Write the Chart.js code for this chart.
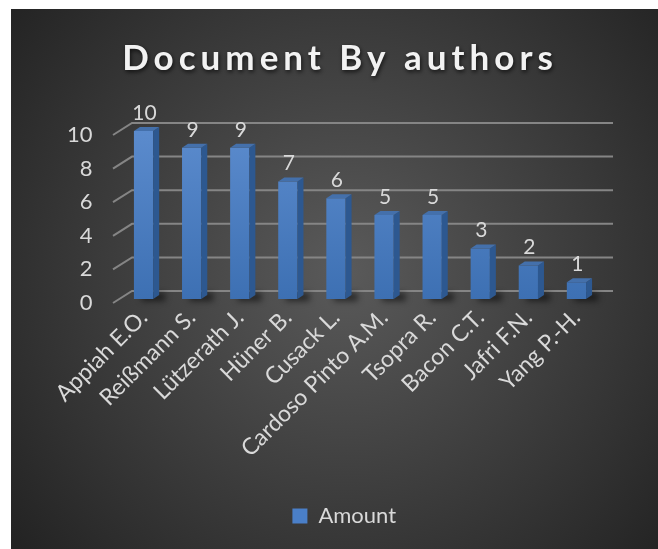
<!DOCTYPE html>
<html lang="en">
<head>
<meta charset="UTF-8">
<title>Document By authors</title>
<script src="https://cdn.jsdelivr.net/npm/chart.js@4.4.0/dist/chart.umd.min.js"></script>
<style>
  html, body { margin: 0; padding: 0; background: #fff; }
  #wrap { width: 658px; height: 549px; position: relative; }
</style>
</head>
<body>
<div id="wrap"><canvas id="chart"></canvas></div>
<script>
  const chartTitle = 'Document By authors';
  const seriesName = 'Amount';
  const authors = ['Appiah E.O.', 'Reißmann S.', 'Lützerath J.', 'Hüner B.', 'Cusack L.',
                   'Cardoso Pinto A.M.', 'Tsopra R.', 'Bacon C.T.', 'Jafri F.N.', 'Yang P.-H.'];
  const amounts = [10, 9, 9, 7, 6, 5, 5, 3, 2, 1];
  const yTicks = [0, 2, 4, 6, 8, 10];

  const TEXT = '#d9d9d9';
  const GRID = '#858585';

  // offsets used to fake the 3D look
  const barDepth = { dx: 6, dy: -4 };
  const wallFront = { dx: -6.5, dy: 4 };
  const wallBack = { dx: 12.5, dy: -8 };

  // dark panel with the soft radial light
  const backdrop = {
    id: 'backdrop',
    afterLayout(chart) {
      // legend sits a little right of the canvas centre
      chart.legend.left += 44;
      chart.legend.right += 44;
    },
    beforeDraw(chart) {
      const { ctx, width, height } = chart;
      ctx.save();
      ctx.fillStyle = '#fff';
      ctx.fillRect(0, 0, width, height);
      const g = ctx.createRadialGradient(345, 270, 0, 345, 270, 430);
      g.addColorStop(0, '#5a5a5a');
      g.addColorStop(1, '#232323');
      ctx.fillStyle = g;
      ctx.fillRect(11, 9, width - 11, height - 9);

      // title with letter spacing and drop shadow
      ctx.font = 'bold 35px Lato, "Open Sans", sans-serif';
      ctx.letterSpacing = '5px';
      ctx.textAlign = 'center';
      ctx.textBaseline = 'alphabetic';
      ctx.shadowColor = 'rgba(0,0,0,0.7)';
      ctx.shadowBlur = 4;
      ctx.shadowOffsetX = 1;
      ctx.shadowOffsetY = 2;
      ctx.fillStyle = '#f2f2f2';
      ctx.fillText(chartTitle, 340, 70);
      ctx.restore();
    },
    beforeDatasetsDraw(chart) {
      const { ctx, chartArea } = chart;
      const y = chart.scales.y;
      ctx.save();
      ctx.strokeStyle = GRID;
      ctx.lineWidth = 2;
      yTicks.forEach(v => {
        const py = y.getPixelForValue(v);
        ctx.beginPath();
        ctx.moveTo(chartArea.left + wallFront.dx, py + wallFront.dy);
        ctx.lineTo(chartArea.left + wallBack.dx, py + wallBack.dy);
        ctx.lineTo(chartArea.right + wallBack.dx, py + wallBack.dy);
        ctx.stroke();
      });
      // floor shadow behind each bar
      const meta = chart.getDatasetMeta(0);
      ctx.filter = 'blur(3px)';
      ctx.fillStyle = 'rgba(0,0,0,0.55)';
      meta.data.forEach(bar => {
        const right = bar.x + bar.width / 2;
        ctx.fillRect(bar.x - 2, bar.base - 6, right - bar.x + 14, 8);
      });
      ctx.restore();
    },
    afterDatasetsDraw(chart) {
      const { ctx } = chart;
      const meta = chart.getDatasetMeta(0);
      ctx.save();
      meta.data.forEach((bar, i) => {
        const l = bar.x - bar.width / 2;
        const r = bar.x + bar.width / 2;
        const t = bar.y, b = bar.base;
        const { dx, dy } = barDepth;
        // side face
        ctx.fillStyle = '#2d5890';
        ctx.beginPath();
        ctx.moveTo(r, t);
        ctx.lineTo(r + dx, t + dy);
        ctx.lineTo(r + dx, b + dy);
        ctx.lineTo(r, b);
        ctx.closePath();
        ctx.fill();
        // top face
        ctx.fillStyle = '#4470ab';
        ctx.beginPath();
        ctx.moveTo(l, t);
        ctx.lineTo(l + dx, t + dy);
        ctx.lineTo(r + dx, t + dy);
        ctx.lineTo(r, t);
        ctx.closePath();
        ctx.fill();
        // value label
        ctx.fillStyle = TEXT;
        ctx.font = '21px Lato, "Open Sans", sans-serif';
        ctx.textAlign = 'center';
        ctx.fillText(String(amounts[i]), bar.x + 1, t - 18);
      });
      ctx.restore();
    }
  };

  const ctx = document.getElementById('chart').getContext('2d');
  Chart.defaults.font.family = 'Lato, "Open Sans", sans-serif';

  new Chart(ctx, {
    type: 'bar',
    data: {
      labels: authors,
      datasets: [{
        label: seriesName,
        data: amounts,
        barPercentage: 0.4,
        categoryPercentage: 1,
        borderWidth: 0,
        backgroundColor: (c) => {
          const area = c.chart.chartArea;
          if (!area) return '#4a7ebf';
          const g = c.chart.ctx.createLinearGradient(0, area.top, 0, area.bottom);
          g.addColorStop(0, '#5b8bcd');
          g.addColorStop(1, '#3d70b3');
          return g;
        }
      }]
    },
    options: {
      responsive: true,
      maintainAspectRatio: false,
      animation: false,
      layout: { padding: { left: 0, right: 57.5, top: 131, bottom: 12 } },
      scales: {
        x: {
          grid: { display: false, drawTicks: false },
          border: { display: false },
          ticks: { color: TEXT, font: { size: 23 }, maxRotation: 45, minRotation: 45, padding: 5, autoSkip: false },
          afterFit: (s) => { s.height = 196; }
        },
        y: {
          min: 0,
          max: 10,
          grid: { display: false, drawTicks: false },
          border: { display: false },
          ticks: { stepSize: 2, color: TEXT, font: { size: 22 }, padding: 27, labelOffset: 4 },
          afterFit: (s) => { s.width = 119.5; }
        }
      },
      plugins: {
        legend: {
          position: 'bottom',
          labels: {
            color: TEXT,
            font: { size: 22 },
            boxWidth: 15,
            boxHeight: 15,
            padding: 10,
            generateLabels: () => [{
              text: seriesName, fillStyle: '#4a7fc8', strokeStyle: '#4a7fc8',
              lineWidth: 0, fontColor: TEXT, datasetIndex: 0
            }]
          }
        },
        tooltip: { enabled: false }
      }
    },
    plugins: [backdrop]
  });
</script>
</body>
</html>
